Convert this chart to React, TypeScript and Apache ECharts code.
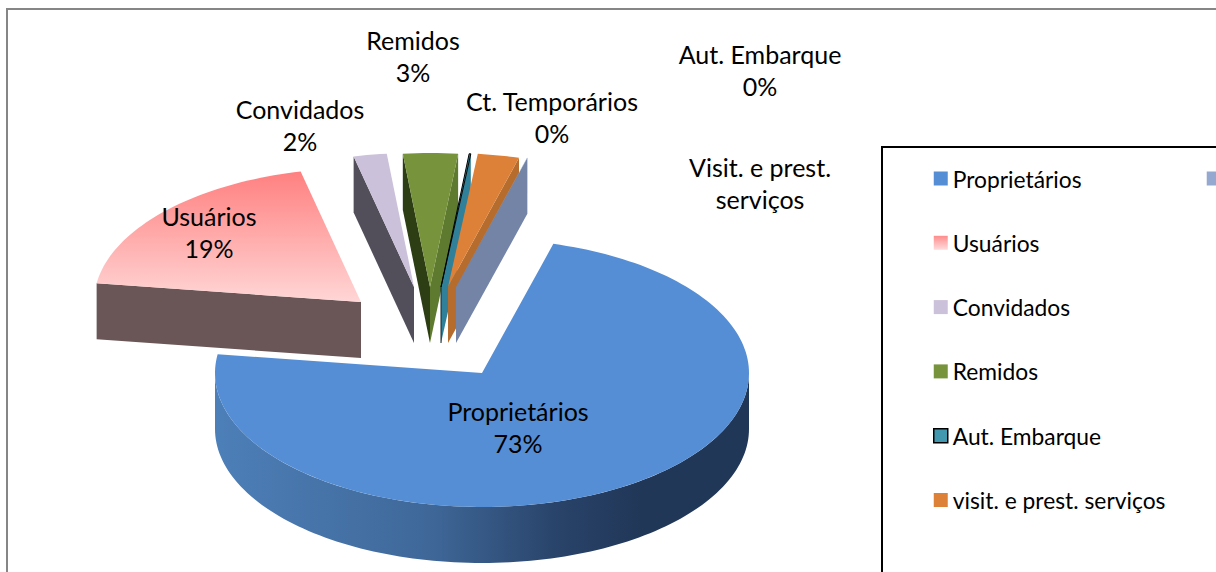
import React, { useEffect, useRef } from "react";
import * as echarts from "echarts";

const categories = ["Proprietários", "Usuários", "Convidados", "Remidos", "Aut. Embarque", "visit. e prest. serviços", "Ct. Temporários"];
const values = [72.8, 19.1, 2, 3.3, 0.1, 2.5, 0.02];
const labelTexts = ["Proprietários\n73%", "Usuários\n19%", "Convidados\n2%", "Remidos\n3%", "Aut. Embarque\n0%", "Visit. e prest.\nserviços", "Ct. Temporários\n0%"];

const CX = 482, CY = 373, RX = 267, RY = 134, DEPTH = 56, START_ANGLE = 15.5;
const FONT = "Lato";
const LABEL_SIZE = 25, LEGEND_SIZE = 22.8;
const explode: number[][] = [[0, 0], [-121, -71], [-68, -86], [-52, -86], [-41, -86], [-34, -86], [-26, -86]];
const labelAt: number[][] = [[518, 427], [209, 232], [300, 125], [413, 56], [760, 70], [760, 183], [552, 117]];

const grad = (x2: number, y2: number, stops: [number, string][]) =>
  new echarts.graphic.LinearGradient(0, 0, x2, y2, stops.map(([offset, color]) => ({ offset, color })));

const topFill: any[] = [
  "#558ed5",
  grad(0, 1, [[0, "#ff8080"], [1, "#ffd6d6"]]),
  "#ccc1da",
  "#77933c",
  "#31859c",
  "#dd8139",
  "#95a9d0",
];
const startWall = ["#3a5f8f", "#6a5656", "#524f5b", "#2d3d14", "#1f5666", "#b56c2c", "#7384a6"];
const endWall = ["#3a5f8f", "#6a5656", "#8a8199", "#5d7a2e", "#2f8098", "#b56c2c", "#7384a6"];
const sideFill = grad(1, 0, [[0, "#4d7fb8"], [0.4, "#3f6899"], [0.65, "#284268"], [0.8, "#213758"], [1, "#213758"]]);
const legendColor: any[] = [
  "#558ed5",
  grad(0, 1, [[0, "#ff8c8c"], [1, "#ffdcdc"]]),
  "#ccc1da",
  "#77933c",
  "#4198af",
  "#dd8139",
  "#95a9d0",
];

const total = values.reduce((a, b) => a + b, 0);
const spans: number[][] = [];
values.reduce((acc, v) => {
  const next = acc + (v / total) * 360;
  spans.push([acc, next]);
  return next;
}, START_ANGLE);

const rad = (d: number) => (d * Math.PI) / 180;

function renderSlice(index: number) {
  const [a0, a1] = spans[index];
  const cx = CX + explode[index][0];
  const cy = CY + explode[index][1];
  const at = (deg: number, dy = 0) => [cx + RX * Math.sin(rad(deg)), cy - RY * Math.cos(rad(deg)) + dy];
  const arc = (from: number, to: number, dy = 0) => {
    const n = Math.max(2, Math.ceil(Math.abs(to - from) / 1.5));
    const pts: number[][] = [];
    for (let i = 0; i <= n; i++) pts.push(at(from + ((to - from) * i) / n, dy));
    return pts;
  };
  const children: any[] = [];
  const wall = (deg: number, fill: string) => {
    const p = at(deg);
    children.push({
      type: "polygon",
      shape: { points: [[cx, cy], p, [p[0], p[1] + DEPTH], [cx, cy + DEPTH]] },
      style: { fill },
    });
  };
  if (Math.sin(rad(a0)) < 0) wall(a0, startWall[index]);
  if (Math.sin(rad(a1)) > 0) wall(a1, endWall[index]);
  const s0 = Math.max(a0, 90), s1 = Math.min(a1, 270);
  if (s1 > s0) {
    children.push({
      type: "polygon",
      shape: { points: [...arc(s0, s1), ...arc(s1, s0, DEPTH)] },
      style: { fill: sideFill },
    });
  }
  const isThin = categories[index] === "Aut. Embarque";
  children.push({
    type: "polygon",
    shape: { points: [[cx, cy], ...arc(a0, a1)] },
    style: isThin ? { fill: topFill[index], stroke: "#000", lineWidth: 1 } : { fill: topFill[index] },
  });
  if (isThin) {
    children.push({
      type: "line",
      shape: { x1: cx, y1: cy, x2: cx, y2: cy + DEPTH },
      style: { stroke: "#10262c", lineWidth: 1 },
    });
  }
  return { type: "group", children };
}

function renderLabel(index: number) {
  return {
    type: "text",
    x: labelAt[index][0],
    y: labelAt[index][1],
    z2: 100,
    style: {
      text: labelTexts[index],
      fontFamily: FONT,
      fontSize: LABEL_SIZE,
      lineHeight: 32,
      fill: "#000",
      align: "center",
      verticalAlign: "middle",
    },
  };
}

export default function App() {
  const ref = useRef<HTMLDivElement>(null);
  useEffect(() => {
    const chart = echarts.init(ref.current!, undefined, { renderer: "svg" });
    chart.setOption({
      animation: false,
      backgroundColor: "#fff",
      graphic: [
        { type: "rect", silent: true, shape: { x: 7, y: 9, width: 1400, height: 800 }, style: { fill: "none", stroke: "#868686", lineWidth: 2 } },
        { type: "rect", silent: true, shape: { x: 882, y: 147, width: 600, height: 600 }, style: { fill: "#fff", stroke: "#000", lineWidth: 2 } },
      ],
      legend: {
        orient: "vertical",
        left: 933,
        top: 167,
        padding: 0,
        itemWidth: 14,
        itemHeight: 14,
        itemGap: 41.3,
        icon: "rect",
        selectedMode: false,
        textStyle: { fontFamily: FONT, fontSize: LEGEND_SIZE, lineHeight: 20, color: "#000" },
        data: categories.map((name, i) => ({
          name,
          itemStyle: i === 4
            ? { color: legendColor[i], borderColor: "#000", borderWidth: 1.5 }
            : { color: legendColor[i], borderWidth: 0 },
        })),
      },
      series: [
        ...categories.map((name, i) => ({
          type: "custom",
          name,
          coordinateSystem: "none",
          clip: false,
          silent: true,
          data: [values[i]],
          itemStyle: { color: typeof legendColor[i] === "string" ? legendColor[i] : "#ff8c8c" },
          renderItem: () => renderSlice(i),
        })),
        {
          type: "custom",
          name: "labels",
          coordinateSystem: "none",
          silent: true,
          data: categories.map((_, i) => i),
          renderItem: (p: any) => renderLabel(p.dataIndex),
        },
      ],
    });
    return () => chart.dispose();
  }, []);
  return <div ref={ref} style={{ position: "fixed", left: 0, top: 0, width: 1216, height: 572, overflow: "hidden" }} />;
}
